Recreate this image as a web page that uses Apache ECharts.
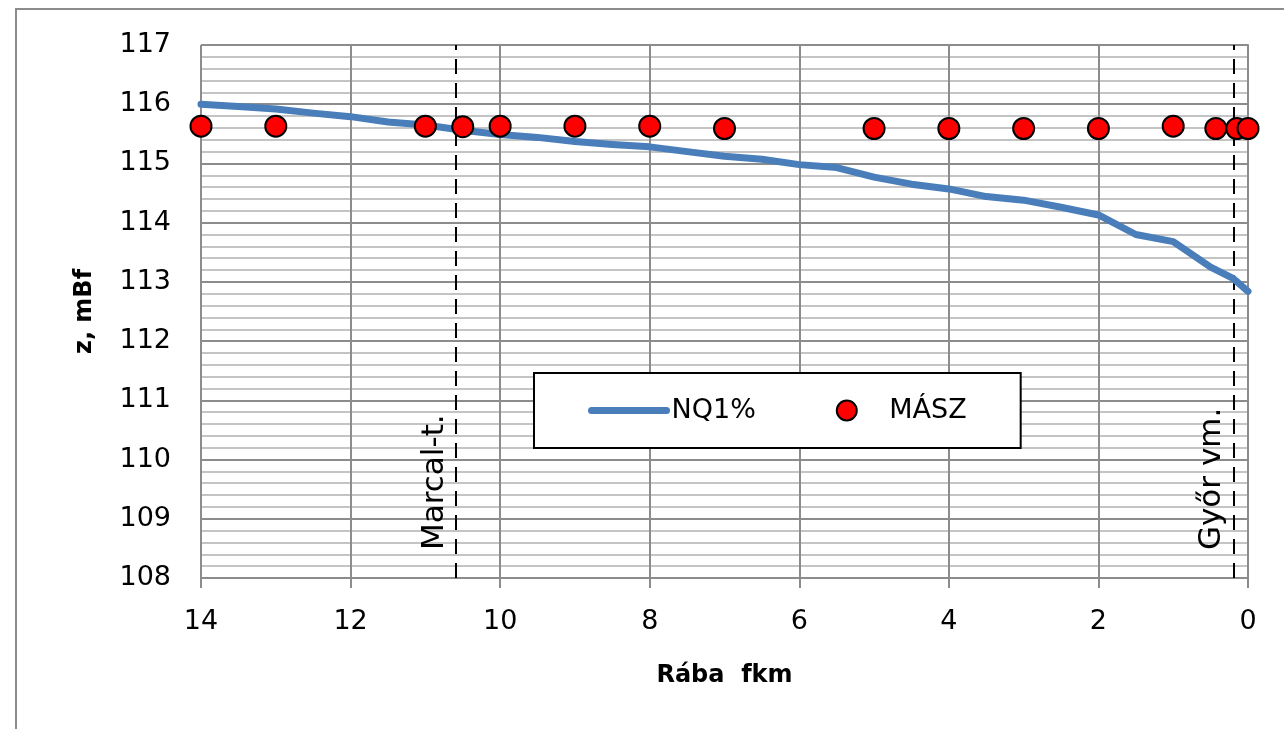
<!DOCTYPE html>
<html>
<head>
<meta charset="utf-8">
<script src="https://cdn.jsdelivr.net/npm/echarts@6/dist/echarts.min.js"></script>
<style>
  html, body { margin: 0; padding: 0; background: #fff; }
  #chart { width: 1284px; height: 729px; }
</style>
</head>
<body>
<div id="chart"></div>
<script>
// NQ1% water surface profile (Rába fkm -> z, mBf)
var kmNq = [14, 13.5, 13, 12.5, 12, 11.5, 11, 10.5, 10, 9.5, 9, 8.5, 8, 7.5, 7, 6.5, 6, 5.5, 5, 4.5, 4, 3.5, 3, 2.5, 2, 1.5, 1, 0.5, 0.2, 0];
var zNq = [116.0, 115.96, 115.92, 115.85, 115.79, 115.70, 115.65, 115.56, 115.49, 115.44, 115.37, 115.32, 115.28, 115.20, 115.12, 115.07, 114.98, 114.93, 114.77, 114.65, 114.57, 114.44, 114.38, 114.26, 114.13, 113.80, 113.68, 113.25, 113.06, 112.84];

// MÁSZ points
var kmMasz = [14, 13, 11, 10.5, 10, 9, 8, 7, 5, 4, 3, 2, 1, 0.43, 0.15, 0];
var zMasz = [115.63, 115.63, 115.63, 115.62, 115.63, 115.63, 115.63, 115.59, 115.59, 115.59, 115.59, 115.59, 115.63, 115.59, 115.59, 115.59];

// vertical reference lines
var refNames = ['Marcal-t.', 'Győr vm.'];
var refKm = [10.59, 0.19];

var xTicks = { min: 0, max: 14, interval: 2 };
var yTicks = { min: 108, max: 117, interval: 1 };

var font = 'DejaVu Sans';

function pairs(xs, ys) {
  var out = [];
  for (var i = 0; i < xs.length; i++) out.push([xs[i], ys[i]]);
  return out;
}

var chart = echarts.init(document.getElementById('chart'));

var option = {
  backgroundColor: '#fff',
  animation: false,
  textStyle: { fontFamily: font },
  graphic: [{
    type: 'rect',
    z: -10,
    shape: { x: 16, y: 9, width: 1320, height: 760 },
    style: { fill: 'none', stroke: '#8c8c8c', lineWidth: 2 }
  }],
  grid: { left: 201, right: 36, top: 45, bottom: 151 },
  legend: {
    left: 534,
    top: 373,
    padding: [24, 54, 24, 54],
    itemWidth: 75,
    itemHeight: 20,
    itemGap: 80,
    borderColor: '#000',
    borderWidth: 2,
    backgroundColor: '#fff',
    textStyle: { fontFamily: font, fontSize: 27, color: '#000' },
    data: [
      { name: 'NQ1%', itemStyle: { opacity: 0 }, lineStyle: { width: 7, cap: 'round', color: '#4a7ebb' } },
      { name: 'MÁSZ' }
    ]
  },
  xAxis: {
    type: 'value',
    inverse: true,
    min: xTicks.min,
    max: xTicks.max,
    interval: xTicks.interval,
    name: 'Rába  fkm',
    nameLocation: 'middle',
    nameGap: 86,
    nameTextStyle: { fontFamily: font, fontSize: 24, fontWeight: 'bold', color: '#000' },
    axisLine: { lineStyle: { color: '#8c8c8c', width: 2 } },
    axisTick: { length: 10, lineStyle: { color: '#8c8c8c', width: 2 } },
    axisLabel: { fontFamily: font, fontSize: 27, color: '#000', margin: 30 },
    splitLine: { show: true, lineStyle: { color: '#8c8c8c', width: 2 } }
  },
  yAxis: {
    type: 'value',
    min: yTicks.min,
    max: yTicks.max,
    interval: yTicks.interval,
    name: 'z, mBf',
    nameLocation: 'middle',
    nameGap: 104,
    nameTextStyle: { fontFamily: font, fontSize: 24, fontWeight: 'bold', color: '#000' },
    axisLine: { show: true, lineStyle: { color: '#8c8c8c', width: 2 } },
    axisTick: { show: true, length: 10, lineStyle: { color: '#8c8c8c', width: 2 } },
    axisLabel: { fontFamily: font, fontSize: 27, color: '#000', margin: 30 },
    splitLine: { show: true, lineStyle: { color: '#8c8c8c', width: 2 } },
    minorTick: { show: false, splitNumber: 5 },
    minorSplitLine: { show: true, lineStyle: { color: '#c4c4c4', width: 2 } }
  },
  series: [
    {
      name: 'NQ1%',
      type: 'line',
      data: pairs(kmNq, zNq),
      symbol: 'none',
      z: 3,
      lineStyle: { color: '#4a7ebb', width: 7, cap: 'round', join: 'round' },
      itemStyle: { color: '#4a7ebb' }
    },
    {
      name: 'MÁSZ',
      type: 'scatter',
      data: pairs(kmMasz, zMasz),
      symbol: 'circle',
      symbolSize: 21,
      z: 4,
      itemStyle: { color: '#ff0000', borderColor: '#000', borderWidth: 2, opacity: 1 },
      markLine: {
        silent: true,
        symbol: 'none',
        z: 2,
        lineStyle: { color: '#000', width: 2, type: [15, 9] },
        label: {
          show: true,
          position: 'insideStartTop',
          distance: [28, 6],
          fontFamily: font,
          fontSize: 31,
          color: '#000',
          formatter: function (p) { return p.name; }
        },
        data: refNames.map(function (n, i) { return { name: n, xAxis: refKm[i] }; })
      }
    }
  ]
};

chart.setOption(option);
</script>
</body>
</html>
